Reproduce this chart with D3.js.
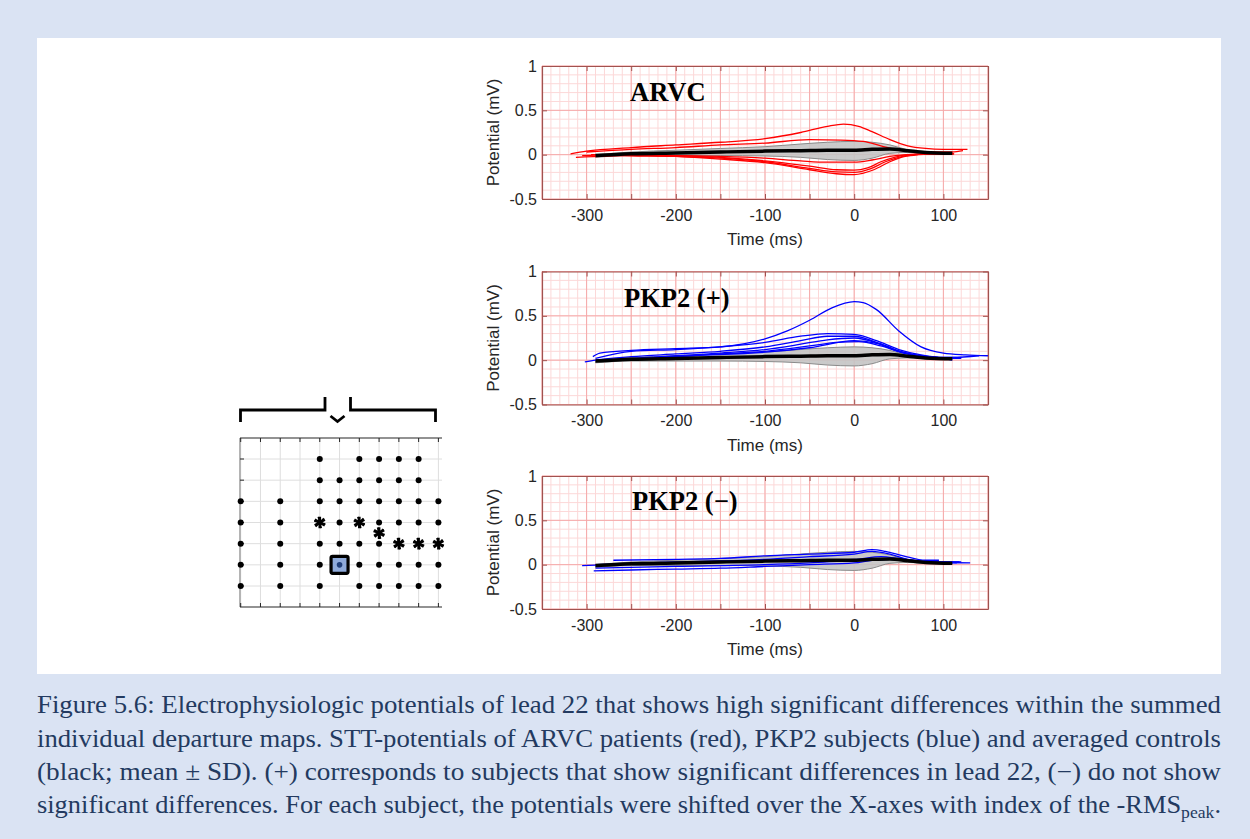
<!DOCTYPE html>
<meta charset="utf-8">
<script src="https://d3js.org/d3.v7.min.js"></script>
<style>
   body {
      margin: 0;
      padding: 0;
      background-color: #dae3f3;
   }
   text {
      font-family: "Liberation Sans", Arial, sans-serif;
   }
</style>
<body>
<script>

   // ---- data ----
   // averaged controls: time (ms), mean and mean +/- SD (mV)
   var controlT    = [-290, -250, -200, -150, -100, -60, -30, 0, 20, 40, 60, 80, 110];
   var controlMean = [-0.01, 0.01, 0.02, 0.03, 0.04, 0.045, 0.05, 0.05, 0.06, 0.065, 0.045, 0.025, 0.015];
   var controlUp   = [0.0, 0.03, 0.05, 0.07, 0.09, 0.12, 0.14, 0.15, 0.14, 0.11, 0.055, 0.03, 0.02];
   var controlLow  = [-0.03, -0.01, -0.01, -0.01, -0.015, -0.03, -0.055, -0.065, -0.04, 0.015, 0.025, 0.015, 0.01];

   // ARVC patients (red), [time, potential]
   var arvcTraces = [
      [[-318, 0.01], [-300, 0.04], [-250, 0.08], [-200, 0.11], [-150, 0.14], [-100, 0.18], [-60, 0.25], [-30, 0.32], [-12, 0.345], [5, 0.32], [20, 0.26], [40, 0.17], [60, 0.1], [80, 0.07], [100, 0.06], [127, 0.06]],
      [[-300, 0.03], [-250, 0.06], [-200, 0.08], [-150, 0.11], [-100, 0.13], [-50, 0.17], [-15, 0.165], [10, 0.15], [30, 0.1], [50, 0.05], [80, 0.03], [110, 0.03], [122, 0.045]],
      [[-312, -0.03], [-250, -0.01], [-200, -0.01], [-150, -0.02], [-100, -0.04], [-60, -0.07], [-30, -0.085], [0, -0.085], [20, -0.06], [40, -0.02], [60, 0.0], [90, 0.01], [112, 0.01]],
      [[-305, -0.01], [-250, 0.0], [-200, -0.01], [-150, -0.03], [-100, -0.07], [-50, -0.13], [-20, -0.17], [0, -0.175], [15, -0.15], [30, -0.08], [45, -0.03], [60, 0.0], [85, 0.01], [110, 0.01]],
      [[-295, 0.0], [-250, -0.01], [-200, -0.02], [-150, -0.04], [-100, -0.08], [-50, -0.155], [-20, -0.195], [0, -0.2], [18, -0.16], [35, -0.08], [50, -0.03], [65, 0.0], [90, 0.01], [110, 0.01]],
      [[-280, 0.0], [-250, -0.01], [-200, -0.02], [-150, -0.05], [-100, -0.09], [-50, -0.17], [-20, -0.215], [0, -0.225], [22, -0.17], [40, -0.08], [57, -0.02], [72, 0.0], [95, 0.01], [112, 0.01]]
   ];

   // PKP2 subjects with significant differences (blue)
   var pkpPlusTraces = [
      [[-293, 0.04], [-285, 0.08], [-250, 0.11], [-200, 0.13], [-150, 0.15], [-100, 0.24], [-75, 0.33], [-50, 0.45], [-25, 0.59], [0, 0.66], [10, 0.65], [25, 0.57], [50, 0.33], [75, 0.15], [100, 0.08], [125, 0.06], [150, 0.05]],
      [[-290, 0.02], [-250, 0.1], [-200, 0.12], [-150, 0.15], [-100, 0.2], [-60, 0.27], [-30, 0.3], [0, 0.29], [25, 0.22], [50, 0.12], [75, 0.06], [100, 0.03], [120, 0.03]],
      [[-302, -0.02], [-290, 0.0], [-250, 0.04], [-200, 0.07], [-150, 0.1], [-100, 0.15], [-60, 0.22], [-30, 0.27], [0, 0.27], [25, 0.2], [50, 0.1], [75, 0.05], [100, 0.02], [110, 0.0]],
      [[-280, 0.0], [-200, 0.05], [-150, 0.08], [-100, 0.12], [-60, 0.18], [-30, 0.23], [0, 0.25], [30, 0.18], [55, 0.09], [80, 0.04], [110, 0.03], [140, 0.05]],
      [[-260, 0.0], [-200, 0.04], [-150, 0.07], [-100, 0.1], [-50, 0.16], [-20, 0.2], [5, 0.21], [30, 0.16], [55, 0.08], [90, 0.03], [120, 0.02]],
      [[-240, 0.02], [-180, 0.05], [-100, 0.09], [-50, 0.14], [0, 0.22], [25, 0.19], [50, 0.1], [80, 0.04], [100, 0.02]]
   ];

   // PKP2 subjects without significant differences (blue)
   var pkpMinusTraces = [
      [[-270, 0.05], [-200, 0.06], [-150, 0.07], [-100, 0.1], [-50, 0.12], [0, 0.14], [20, 0.17], [35, 0.15], [55, 0.1], [80, 0.05], [95, 0.05]],
      [[-290, 0.0], [-200, 0.03], [-100, 0.06], [-50, 0.09], [0, 0.12], [20, 0.15], [40, 0.12], [60, 0.06], [90, 0.03], [120, 0.03]],
      [[-292, -0.07], [-250, -0.06], [-200, -0.05], [-150, -0.04], [-100, -0.02], [-50, 0.0], [0, 0.02], [20, 0.05], [40, 0.06], [60, 0.05], [90, 0.03], [118, 0.03]],
      [[-305, -0.01], [-250, 0.01], [-150, 0.03], [-100, 0.04], [-50, 0.05], [0, 0.06], [30, 0.09], [50, 0.07], [80, 0.03], [130, 0.02]],
      [[-290, -0.04], [-200, -0.02], [-100, 0.0], [-50, 0.02], [0, 0.05], [40, 0.06], [70, 0.04], [115, 0.02]]
   ];

   var xTicks = [-300, -200, -100, 0, 100];
   var yTicks = [-0.5, 0, 0.5, 1];
   var panelTitles = ["ARVC", "PKP2 (+)", "PKP2 (\u2212)"];

   // electrode map: '.' lead, '*' significant lead, 'S' selected lead 22
   var electrodeRows = [
      "    . .... ",
      "    ...... ",
      ". . .......",
      ". . *.*....",
      ". . ....***",
      ". . .S.....",
      ". . . ....."
   ];
   var extraStars = [[7, 3.5]];

   var captionLines = [
      "Figure 5.6: Electrophysiologic potentials of lead 22 that shows high significant differences within the summed",
      "individual departure maps. STT-potentials of ARVC patients (red), PKP2 subjects (blue) and averaged controls",
      "(black; mean \u00b1 SD). (+) corresponds to subjects that show significant differences in lead 22, (\u2212) do not show",
      "significant differences. For each subject, the potentials were shifted over the X-axes with index of the -RMS"
   ];

   // ---- drawing ----
   var svg = d3.select("body").append("svg")
      .attr("width", 1250)
      .attr("height", 839)
      .style("display", "block");

   svg.append("rect").attr("width", 1250).attr("height", 839).attr("fill", "#dae3f3");
   svg.append("rect").attr("x", 37).attr("y", 38).attr("width", 1184).attr("height", 636).attr("fill", "white");

   var plotW = 446, plotH = 133;
   var frameColor = "#a0524f";
   var panels = [
      { top: 66, titleX: 630, titleY: 101, color: "#ff0000", traces: arvcTraces },
      { top: 271.5, titleX: 624, titleY: 307, color: "#0000ff", traces: pkpPlusTraces },
      { top: 476, titleX: 632, titleY: 510, color: "#0000ff", traces: pkpMinusTraces }
   ];

   var x = d3.scaleLinear().domain([-350, 150]).range([0, plotW]);
   var y = d3.scaleLinear().domain([-0.5, 1]).range([plotH, 0]);

   var line = d3.line()
      .x(function (d) { return x(d[0]) })
      .y(function (d) { return y(d[1]) })
      .curve(d3.curveMonotoneX);

   var band = d3.area()
      .x(function (d, i) { return x(controlT[i]) })
      .y0(function (d, i) { return y(controlLow[i]) })
      .y1(function (d, i) { return y(controlUp[i]) })
      .curve(d3.curveMonotoneX);

   var meanData = controlT.map(function (t, i) { return [t, controlMean[i]] });

   var minorX = d3.range(-35, 16).map(function (i) { return i * 10 });
   var majorX = d3.range(-7, 4).map(function (i) { return i * 50 });
   var minorY = d3.range(-5, 11).map(function (i) { return i / 10 });

   panels.forEach(function (p, k) {
      var g = svg.append("g").attr("transform", "translate(542," + p.top + ")");

      g.append("clipPath").attr("id", "clip" + k)
         .append("rect").attr("width", plotW).attr("height", plotH);

      // ECG paper grid
      var grid = g.append("g");
      grid.selectAll(".mx").data(minorX).enter().append("line")
         .attr("x1", x).attr("x2", x).attr("y1", 0).attr("y2", plotH)
         .attr("stroke", "#fcd8d8").attr("stroke-width", 1);
      grid.selectAll(".my").data(minorY).enter().append("line")
         .attr("y1", y).attr("y2", y).attr("x1", 0).attr("x2", plotW)
         .attr("stroke", "#fcd8d8").attr("stroke-width", 1);
      grid.selectAll(".Mx").data(majorX).enter().append("line")
         .attr("x1", x).attr("x2", x).attr("y1", 0).attr("y2", plotH)
         .attr("stroke", "#f5a9a9").attr("stroke-width", 1);
      grid.selectAll(".My").data(yTicks).enter().append("line")
         .attr("y1", y).attr("y2", y).attr("x1", 0).attr("x2", plotW)
         .attr("stroke", "#f5a9a9").attr("stroke-width", 1);

      var plot = g.append("g").attr("clip-path", "url(#clip" + k + ")");

      plot.append("path")
         .datum(controlT)
         .attr("d", band)
         .attr("fill", "#c4c4c4")
         .attr("fill-opacity", 0.9)
         .attr("stroke", "#8a8a8a")
         .attr("stroke-width", 1);

      plot.selectAll(".trace").data(p.traces).enter().append("path")
         .attr("d", line)
         .attr("fill", "none")
         .attr("stroke", p.color)
         .attr("stroke-width", 1.3);

      plot.append("path")
         .datum(meanData)
         .attr("d", line)
         .attr("fill", "none")
         .attr("stroke", "black")
         .attr("stroke-width", 3.5);

      // axes, ticks pointing inwards like matlab
      var fmt = function (d) { return xTicks.indexOf(d) >= 0 ? String(d) : "" };
      var bottom = g.append("g").attr("transform", "translate(0," + plotH + ")")
         .call(d3.axisBottom(x).tickValues(majorX).tickSizeInner(-5).tickSizeOuter(0).tickPadding(10.5).tickFormat(fmt));
      var top = g.append("g")
         .call(d3.axisTop(x).tickValues(majorX).tickSizeInner(-5).tickSizeOuter(0).tickFormat(""));
      var left = g.append("g")
         .call(d3.axisLeft(y).tickValues(yTicks).tickSizeInner(-5).tickSizeOuter(0).tickPadding(5).tickFormat(String));
      var right = g.append("g").attr("transform", "translate(" + plotW + ",0)")
         .call(d3.axisRight(y).tickValues(yTicks).tickSizeInner(-5).tickSizeOuter(0).tickFormat(""));

      [bottom, top, left, right].forEach(function (a) {
         a.select(".domain").attr("stroke", frameColor).attr("stroke-width", 1.2);
         a.selectAll(".tick line").attr("stroke", frameColor);
         a.selectAll(".tick text")
            .attr("fill", "#262626")
            .style("font-family", "'Liberation Sans', Arial, sans-serif")
            .style("font-size", "16px");
      });

      g.append("text")
         .attr("transform", "translate(-43," + (plotH / 2) + ") rotate(-90)")
         .attr("text-anchor", "middle")
         .attr("fill", "#262626")
         .style("font-size", "17px")
         .text("Potential (mV)");

      g.append("text")
         .attr("x", 223)
         .attr("y", plotH + 46)
         .attr("text-anchor", "middle")
         .attr("fill", "#262626")
         .style("font-size", "17px")
         .text("Time (ms)");

      svg.append("text")
         .attr("x", p.titleX)
         .attr("y", p.titleY)
         .attr("fill", "black")
         .style("font-family", "'Liberation Serif', 'Times New Roman', serif")
         .style("font-weight", "bold")
         .style("font-size", "26.5px")
         .text(panelTitles[k]);
   });

   // ---- electrode map on the left ----
   var ex = d3.scaleLinear().domain([0, 10]).range([240.7, 438.4]);
   var ey = d3.scaleLinear().domain([0, 6]).range([459, 586]);
   var mapTop = 438, mapBottom = 607, mapLeft = 240, mapRight = 442;
   var em = svg.append("g");

   d3.range(0, 11).forEach(function (c) {
      em.append("line").attr("x1", ex(c)).attr("x2", ex(c)).attr("y1", mapTop).attr("y2", mapBottom)
         .attr("stroke", "#dedede").attr("stroke-width", 1);
   });
   d3.range(0, 7).forEach(function (r) {
      em.append("line").attr("x1", mapLeft).attr("x2", mapRight).attr("y1", ey(r)).attr("y2", ey(r))
         .attr("stroke", "#dedede").attr("stroke-width", 1);
   });
   em.append("line").attr("x1", mapLeft).attr("x2", mapLeft).attr("y1", mapTop).attr("y2", mapBottom)
      .attr("stroke", "#b4b4b4").attr("stroke-width", 2);
   em.append("line").attr("x1", mapLeft).attr("x2", mapRight).attr("y1", mapTop).attr("y2", mapTop)
      .attr("stroke", "#262626").attr("stroke-width", 1.2);
   em.append("line").attr("x1", mapLeft).attr("x2", mapRight).attr("y1", mapBottom).attr("y2", mapBottom)
      .attr("stroke", "#262626").attr("stroke-width", 1.2);
   d3.range(0, 11).forEach(function (c) {
      em.append("line").attr("x1", ex(c)).attr("x2", ex(c)).attr("y1", mapTop).attr("y2", mapTop + 4)
         .attr("stroke", "#262626");
      em.append("line").attr("x1", ex(c)).attr("x2", ex(c)).attr("y1", mapBottom).attr("y2", mapBottom - 4)
         .attr("stroke", "#262626");
   });
   d3.range(0, 7).forEach(function (r) {
      em.append("line").attr("x1", mapLeft).attr("x2", mapLeft + 4).attr("y1", ey(r)).attr("y2", ey(r))
         .attr("stroke", "#262626");
   });

   var leads = [];
   electrodeRows.forEach(function (row, r) {
      row.split("").forEach(function (ch, c) {
         if (ch !== " ") leads.push({ c: c, r: r, type: ch });
      });
   });
   extraStars.forEach(function (s) { leads.push({ c: s[0], r: s[1], type: "*" }) });

   var star = d3.symbol().type(d3.symbolAsterisk).size(95);

   leads.forEach(function (d) {
      if (d.type === ".") {
         em.append("circle").attr("cx", ex(d.c)).attr("cy", ey(d.r)).attr("r", 3).attr("fill", "black");
      } else if (d.type === "*") {
         em.append("path").attr("d", star)
            .attr("transform", "translate(" + ex(d.c) + "," + ey(d.r) + ")")
            .attr("fill", "none").attr("stroke", "black").attr("stroke-width", 2.6);
         em.append("path").attr("d", star)
            .attr("transform", "translate(" + ex(d.c) + "," + ey(d.r) + ") rotate(45)")
            .attr("fill", "none").attr("stroke", "black").attr("stroke-width", 1.6);
         em.append("circle").attr("cx", ex(d.c)).attr("cy", ey(d.r)).attr("r", 2.6).attr("fill", "black");
      } else if (d.type === "S") {
         em.append("rect").attr("x", ex(d.c) - 8.5).attr("y", ey(d.r) - 8.5)
            .attr("width", 17).attr("height", 17).attr("rx", 1.5)
            .attr("fill", "#8eaadb").attr("stroke", "black").attr("stroke-width", 3.2);
         em.append("circle").attr("cx", ex(d.c)).attr("cy", ey(d.r)).attr("r", 2.8).attr("fill", "#203f7a");
      }
   });

   // brackets and chevron above the map
   var bline = d3.line();
   var brackets = [
      [[240.5, 422], [240.5, 410], [325, 410], [325, 397]],
      [[350.5, 397], [350.5, 410], [435.5, 410], [435.5, 422]],
      [[330.5, 416], [337.5, 421.5], [344.5, 416]]
   ];
   em.selectAll(".bracket").data(brackets).enter().append("path")
      .attr("d", bline)
      .attr("fill", "none")
      .attr("stroke", "black")
      .attr("stroke-width", 2.8);

   // ---- caption, each line fitted to the full width ----
   var capLeft = 37, capWidth = 1184;
   var baselines = [713, 746.5, 780, 813];
   captionLines.forEach(function (txt, i) {
      var t = svg.append("text")
         .attr("x", capLeft)
         .attr("y", baselines[i])
         .attr("fill", "#233a60")
         .attr("textLength", capWidth)
         .attr("lengthAdjust", "spacingAndGlyphs")
         .style("font-family", "'Liberation Serif', 'Times New Roman', serif")
         .style("font-size", "25.5px");
      t.append("tspan").text(txt);
      if (i === 3) {
         t.append("tspan").attr("dy", 5).style("font-size", "17px").text("peak");
         t.append("tspan").attr("dy", -5).text(".");
      }
   });

</script>
</body>
